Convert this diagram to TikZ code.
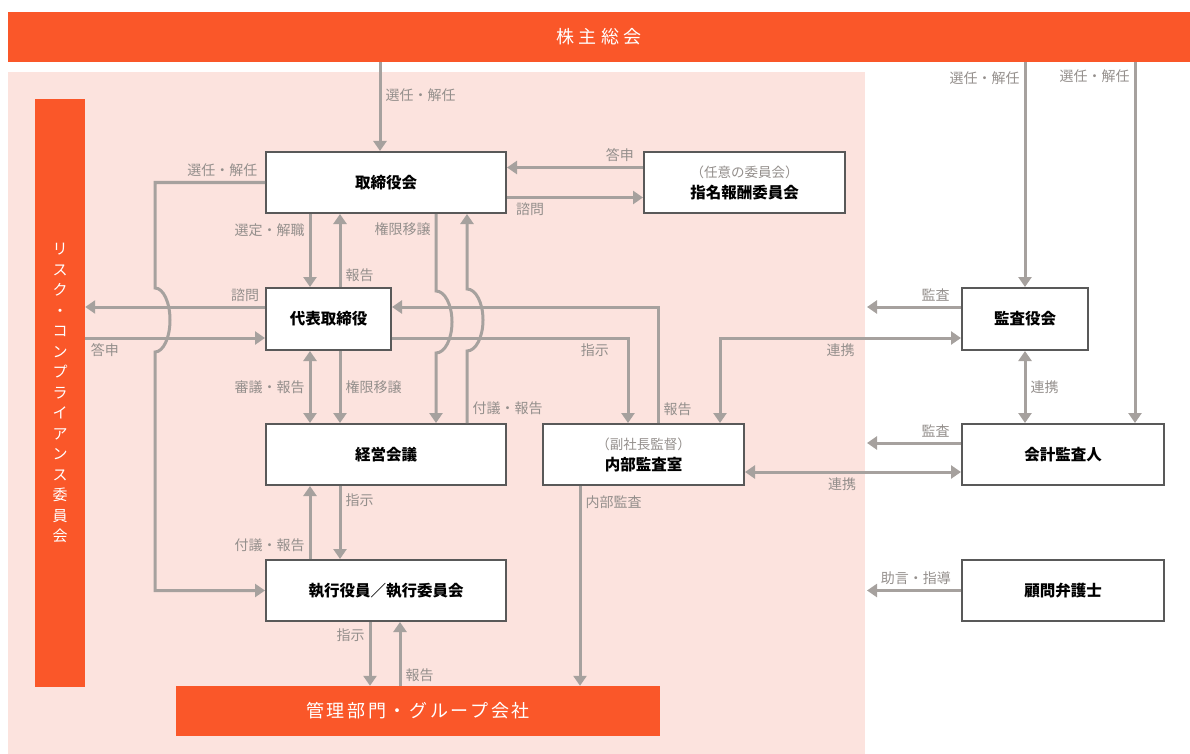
\documentclass[tikz,border=0pt]{standalone}
\usepackage{fontspec}
\setmainfont{Noto Sans CJK JP}
\newfontfamily\widefont{Noto Sans CJK JP}[LetterSpace=15]
\newfontfamily\widerfont{Noto Sans CJK JP}[LetterSpace=25]
\usetikzlibrary{arrows.meta,positioning}
\definecolor{colorbar}{rgb}{0.98, 0.34, 0.16}
\definecolor{colorzone}{rgb}{0.99, 0.89, 0.87}
\definecolor{colorline}{rgb}{0.65, 0.63, 0.62}
\definecolor{colorlabel}{rgb}{0.58, 0.56, 0.55}
\definecolor{colorborder}{rgb}{0.35, 0.35, 0.35}
\tikzstyle{organ}=[rectangle, draw=colorborder, line width=2pt, fill=white, inner sep=0pt, align=center, font=\fontsize{15.5}{21}\selectfont\bfseries]
\tikzstyle{bar}=[rectangle, fill=colorbar, text=white, inner sep=0pt, align=center]
\tikzstyle{flow}=[draw=colorline, line width=3pt]
\tikzstyle{lbl}=[text=colorlabel, font=\fontsize{14}{16}\selectfont, inner sep=4pt]
\newcommand{\sublabel}[1]{{\mdseries\fontsize{13.5}{15}\selectfont\color{colorlabel}#1}}

\begin{document}
\begin{tikzpicture}[x=1pt, y=-1pt, >={Triangle[width=13pt,length=10pt]}]
		
		\useasboundingbox (0,0) rectangle (1190,754);
		\fill[colorzone] (8,72) rectangle (865,754);
		
		\node[bar, minimum width=1182pt, minimum height=50pt, font=\widerfont\fontsize{18}{20}\selectfont] at (599,37) (gm) {株主総会};
		\node[bar, minimum width=50pt, minimum height=588pt, font=\fontsize{15}{20.5}\selectfont] at (60,393) (risk) {リ\\ス\\ク\\・\\コ\\ン\\プ\\ラ\\イ\\ア\\ン\\ス\\委\\員\\会};
		\node[bar, minimum width=484pt, minimum height=50pt, font=\widefont\fontsize{18}{20}\selectfont] at (418,711) (group) {管理部門・グループ会社};
		
		\node[organ, minimum width=240pt, minimum height=61pt] at (386,182.5) (bod) {取締役会};
		\node[organ, minimum width=201pt, minimum height=61pt] at (744.5,182.5) (nom) {\sublabel{（任意の委員会）}\\指名報酬委員会};
		\node[organ, minimum width=125pt, minimum height=62pt] at (328.5,319) (ceo) {代表取締役};
		\node[organ, minimum width=240pt, minimum height=61pt] at (386,454.5) (mgmt) {経営会議};
		\node[organ, minimum width=201pt, minimum height=61pt] at (643.5,454.5) (audit) {\sublabel{（副社長監督）}\\内部監査室};
		\node[organ, minimum width=240pt, minimum height=61pt] at (386,590.5) (exec) {執行役員／執行委員会};
		\node[organ, minimum width=126pt, minimum height=62pt] at (1025,319) (kansa) {監査役会};
		\node[organ, minimum width=202pt, minimum height=61pt] at (1063,454.5) (acct) {会計監査人};
		\node[organ, minimum width=202pt, minimum height=61pt] at (1063,590.5) (lawyer) {顧問弁護士};
		
		% shareholders
		\draw[flow,->] ([xshift=-6pt]bod.north |- gm.south) -- node[lbl, right, pos=0.37]{選任・解任} ([xshift=-6pt]bod.north);
		\draw[flow,->] (kansa.north |- gm.south) -- node[lbl, left, pos=0.07]{選任・解任} (kansa.north);
		\draw[flow,->] ([xshift=72pt]acct.north |- gm.south) -- node[lbl, left, pos=0.04]{選任・解任} ([xshift=72pt]acct.north);
		
		% board
		\draw[flow,->] ([yshift=15pt]nom.west) -- node[lbl, above, pos=0.17]{答申} ([yshift=15pt]bod.east);
		\draw[flow,->] ([yshift=-15pt]bod.east) -- node[lbl, below, pos=0.17]{諮問} ([yshift=-15pt]nom.west);
		\draw[flow,->] (bod.west) -| node[lbl, above left, pos=0.01]{選任・解任} (155,288) arc[start angle=90, end angle=-90, x radius=15pt, y radius=32pt] |- (exec.west);
		\draw[flow,->] ([xshift=-76pt]bod.south) -- node[lbl, left, pos=0.22]{選定・解職} ([xshift=-18.5pt]ceo.north);
		\draw[flow,->] ([xshift=11.5pt]ceo.north) -- node[lbl, right, pos=0.16]{報告} ([xshift=-46pt]bod.south);
		\draw[flow,->] ([xshift=50pt]bod.south) -- node[lbl, left, pos=0.2]{権限移譲} ++(0,77) arc[start angle=90, end angle=-90, x radius=16pt, y radius=31pt] -- ([xshift=50pt]mgmt.north);
		\draw[flow,->] ([xshift=81pt]mgmt.north) -- node[lbl, right, pos=0.2]{付議・報告} ++(0,-72) arc[start angle=-90, end angle=90, x radius=16pt, y radius=31pt] -- ([xshift=81pt]bod.south);
		
		% representative director
		\draw[flow,<->] ([xshift=-18.5pt]ceo.south) -- node[lbl, left]{審議・報告} ([xshift=-76pt]mgmt.north);
		\draw[flow,->] ([xshift=11.5pt]ceo.south) -- node[lbl, right]{権限移譲} ([xshift=-46pt]mgmt.north);
		\draw[flow,->] ([yshift=12pt]ceo.west) -- node[lbl, above, pos=0.11]{諮問} ([yshift=12pt]ceo.west -| risk.east);
		\draw[flow,->] ([yshift=-19pt]ceo.west -| risk.east) -- node[lbl, below, pos=0.11]{答申} ([yshift=-19pt]ceo.west);
		\draw[flow,->] ([yshift=-19pt]ceo.east) -| node[lbl, below, pos=0.43]{指示} ([xshift=-15.5pt]audit.north);
		\draw[flow,->] ([xshift=14.5pt]audit.north) |- node[lbl, right, pos=0.06]{報告} ([yshift=12pt]ceo.east);
		
		% auditors
		\draw[flow,->] ([yshift=12pt]kansa.west) -- node[lbl, above, pos=0.27]{監査} ([xshift=-94pt,yshift=12pt]kansa.west);
		\draw[flow,<->] ([yshift=-19pt]kansa.west) -| node[lbl, below, pos=0.25]{連携} ([xshift=76.5pt]audit.north);
		\draw[flow,<->] (kansa.south) -- node[lbl, right]{連携} (kansa.south |- acct.north);
		\draw[flow,->] ([yshift=11.5pt]acct.west) -- node[lbl, above, pos=0.27]{監査} ([xshift=-94pt,yshift=11.5pt]acct.west);
		\draw[flow,<->] ([yshift=-17.5pt]audit.east) -- node[lbl, below, pos=0.45]{連携} ([yshift=-17.5pt]audit.east -| acct.west);
		\draw[flow,->] (lawyer.west) -- node[lbl, above, pos=0.48]{助言・指導} ([xshift=-94pt]lawyer.west);
		
		% execution
		\draw[flow,->] ([xshift=-46pt]mgmt.south) -- node[lbl, right, pos=0.2]{指示} ([xshift=-46pt]exec.north);
		\draw[flow,->] ([xshift=-76pt]exec.north) -- node[lbl, left, pos=0.19]{付議・報告} ([xshift=-76pt]mgmt.south);
		\draw[flow,->] ([xshift=-16pt]exec.south) -- node[lbl, left, pos=0.2]{指示} ([xshift=-16pt]exec.south |- group.north);
		\draw[flow,->] ([xshift=14pt]exec.south |- group.north) -- node[lbl, right, pos=0.17]{報告} ([xshift=14pt]exec.south);
		\draw[flow,->] ([xshift=-63.5pt]audit.south) -- node[lbl, right, pos=0.08]{内部監査} ([xshift=-63.5pt]audit.south |- group.north);
		
		\end{tikzpicture}
\end{document}
